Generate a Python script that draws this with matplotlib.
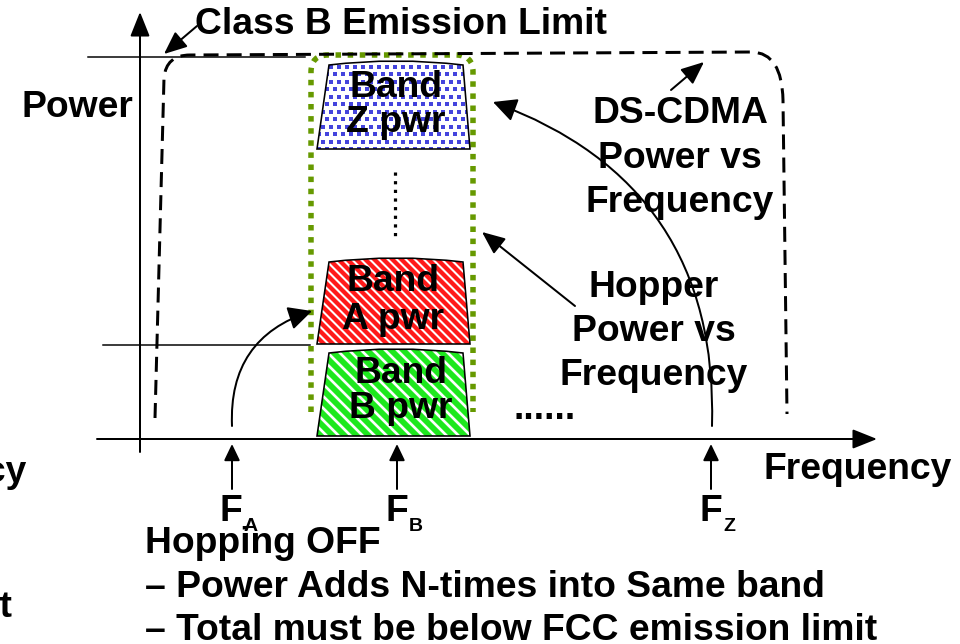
import numpy as np
import matplotlib
matplotlib.use("Agg")
import matplotlib.pyplot as plt
from matplotlib.path import Path
from matplotlib.patches import PathPatch, FancyArrowPatch
from matplotlib.collections import LineCollection

plt.rcParams['font.family'] = ['Liberation Sans', 'DejaVu Sans']

# ---------------- content ----------------
title_text = "Class B Emission Limit"
y_axis_label = "Power"
x_axis_label = "Frequency"
band_ids = ["Z", "A", "B"]
band_line1 = ["Band", "Band", "Band"]
band_line2 = ["Z pwr", "A pwr", "B pwr"]
band_fills = ["dots", "red", "green"]
freq_markers = ["A", "B", "Z"]
ds_label = ["DS-CDMA", "Power vs", "Frequency"]
hop_label = ["Hopper", "Power vs", "Frequency"]
notes = ["Hopping OFF",
         "\u2013 Power Adds N-times into Same band",
         "\u2013 Total must be below FCC emission limit"]
left_cut = ["Frequency", "Limit"]

# ---------------- geometry (pixel canvas) ----------------
W, H = 960, 644
fig = plt.figure(figsize=(W / 100, H / 100), dpi=100)
ax = fig.add_axes([0, 0, 1, 1])
ax.set_xlim(0, W)
ax.set_ylim(H, 0)
ax.axis('off')

FS = 26.8
BOLD = dict(fontweight='bold', color='black')
px = 0.72  # points per pixel

# axes
x_axis_y, x_axis_x0, x_axis_x1 = 439, 97, 877
y_axis_x, y_axis_y0, y_axis_y1 = 140, 452, 12
ax.add_patch(FancyArrowPatch((x_axis_x0, x_axis_y), (x_axis_x1, x_axis_y),
                             arrowstyle='-|>,head_length=0.75,head_width=0.3',
                             mutation_scale=20, lw=2 * px, color='black',
                             shrinkA=0, shrinkB=0))
ax.add_patch(FancyArrowPatch((y_axis_x, y_axis_y0), (y_axis_x, y_axis_y1),
                             arrowstyle='-|>,head_length=0.75,head_width=0.3',
                             mutation_scale=20, lw=2 * px, color='black',
                             shrinkA=0, shrinkB=0))

# level lines
ax.plot([88, 305], [57, 57], color='black', lw=1.5 * px)
ax.plot([103, 310], [345, 345], color='black', lw=1.5 * px)

# DS-CDMA dashed envelope
M, L, C3 = Path.MOVETO, Path.LINETO, Path.CURVE3
env_verts = [(155, 418), (164, 78), (166, 55), (190, 55), (752, 52),
             (782, 53), (783, 100), (787, 414)]
env_codes = [M, L, C3, C3, L, C3, C3, L]
ax.add_patch(PathPatch(Path(env_verts, env_codes), fc='none', ec='black',
                       lw=3 * px, linestyle=(0, (5, 2.7)), zorder=3))

# Hopper green dotted envelope
g_verts = [(311, 412), (311, 72), (311, 55), (328, 55), (456, 55),
           (473, 55), (473, 72), (473, 412)]
g_codes = [M, L, C3, C3, L, C3, C3, L]
ax.add_patch(PathPatch(Path(g_verts, g_codes), fc='none', ec='#669900',
                       lw=5.5 * px, linestyle=(0, (1, 1.2)), zorder=2))

# bands
band_top = [65, 262, 353]
band_bot = [149, 344, 436]
band_top_x = (329, 463)
band_bot_x = (317, 470)
bulge = 4


def band_path(top, bot):
    xt0, xt1 = band_top_x
    xb0, xb1 = band_bot_x
    verts = [(xb0, bot), (xt0, top), ((xt0 + xt1) / 2, top - 2 * bulge),
             (xt1, top), (xb1, bot), (xb0, bot)]
    codes = [M, L, C3, C3, L, Path.CLOSEPOLY]
    return Path(verts, codes)


for top, bot, fill in zip(band_top, band_bot, band_fills):
    p = band_path(top, bot)
    base = PathPatch(p, fc='white', ec='none', zorder=4)
    ax.add_patch(base)
    if fill == 'dots':
        xs, ys = [], []
        for j, yy in enumerate(np.arange(top - 6, bot + 6, 7.5)):
            off = 4 * (j % 2)
            for xx in np.arange(band_bot_x[0] - 6 + off, band_bot_x[1] + 6, 8):
                xs.append(xx)
                ys.append(yy)
        sc = ax.scatter(xs, ys, s=6, marker='s', color='#4444dd',
                        linewidths=0, zorder=5)
        sc.set_clip_path(base)
    else:
        period = 9 if fill == 'red' else 12
        lw = 4.3 if fill == 'red' else 5.8
        col = '#ff1a1a' if fill == 'red' else '#1ee81e'
        hgt = bot - top + 20
        segs = [[(x0, top - 10), (x0 + hgt, top - 10 + hgt)]
                for x0 in np.arange(band_bot_x[0] - hgt - 10, band_bot_x[1] + 10, period)]
        lc = LineCollection(segs, colors=col, linewidths=lw * px, zorder=5)
        ax.add_collection(lc)
        lc.set_clip_path(base)
    ax.add_patch(PathPatch(p, fc='none', ec='black', lw=1.6 * px, zorder=6))

# band labels
band_cx = [396, 393, 401]
band_b1 = [97, 291, 383]
band_b2 = [132, 329, 418]
for cx, b1, b2, t1, t2 in zip(band_cx, band_b1, band_b2, band_line1, band_line2):
    ax.text(cx, b1, t1, ha='center', va='baseline', fontsize=FS, zorder=7, **BOLD)
    ax.text(cx, b2, t2, ha='center', va='baseline', fontsize=FS, zorder=7, **BOLD)

# vertical ellipsis between bands
ax.plot([395, 395], [172, 238], color='black', lw=3.2 * px,
        linestyle=(0, (1, 1.7)), zorder=3)

# frequency markers
marker_x = [232, 397, 711]
for mx, lab in zip(marker_x, freq_markers):
    ax.add_patch(FancyArrowPatch((mx, 489), (mx, 444),
                                 arrowstyle='-|>,head_length=0.5,head_width=0.24',
                                 mutation_scale=20, lw=2 * px, color='black',
                                 shrinkA=0, shrinkB=0))
    ax.text(mx - 12, 521, "F", ha='left', va='baseline', fontsize=FS, **BOLD)
    ax.text(mx + 12, 531, lab, ha='left', va='baseline', fontsize=14, **BOLD)

# curved arrows
ax.add_patch(FancyArrowPatch((232, 426), (312, 311),
                             connectionstyle='arc3,rad=-0.38',
                             arrowstyle='-|>,head_length=0.72,head_width=0.36',
                             mutation_scale=20, lw=2 * px, color='black',
                             shrinkA=0, shrinkB=0, zorder=8))
ax.add_patch(FancyArrowPatch((712, 426), (493, 102),
                             connectionstyle='arc3,rad=0.36',
                             arrowstyle='-|>,head_length=0.72,head_width=0.36',
                             mutation_scale=20, lw=2 * px, color='black',
                             shrinkA=0, shrinkB=0, zorder=8))
# straight pointer arrows
ax.add_patch(FancyArrowPatch((575, 306), (482, 232),
                             arrowstyle='-|>,head_length=0.7,head_width=0.3',
                             mutation_scale=20, lw=2 * px, color='black',
                             shrinkA=0, shrinkB=0, zorder=8))
ax.add_patch(FancyArrowPatch((671, 90), (704, 62),
                             arrowstyle='-|>,head_length=0.7,head_width=0.3',
                             mutation_scale=20, lw=2 * px, color='black',
                             shrinkA=0, shrinkB=0, zorder=8))
ax.add_patch(FancyArrowPatch((197, 26), (164, 54),
                             arrowstyle='-|>,head_length=0.7,head_width=0.3',
                             mutation_scale=20, lw=2 * px, color='black',
                             shrinkA=0, shrinkB=0, zorder=8))

# texts
ax.text(195, 34, title_text, ha='left', va='baseline', fontsize=FS, **BOLD)
ax.text(22, 117, y_axis_label, ha='left', va='baseline', fontsize=FS, **BOLD)
ax.text(763, 479, x_axis_label, ha='left', va='baseline', fontsize=FS, **BOLD)
for t, b in zip(ds_label, [123, 168, 212]):
    ax.text(680, b, t, ha='center', va='baseline', fontsize=FS, zorder=7, **BOLD)
for t, b in zip(hop_label, [297, 341, 385]):
    ax.text(654, b, t, ha='center', va='baseline', fontsize=FS, zorder=7, **BOLD)
ax.text(545, 419, "......", ha='center', va='baseline', fontsize=FS, **BOLD)
for t, b in zip(notes, [553, 597, 640]):
    ax.text(145, b, t, ha='left', va='baseline', fontsize=FS, **BOLD)
ax.text(27, 482, left_cut[0], ha='right', va='baseline', fontsize=FS, **BOLD)
ax.text(12, 617, left_cut[1], ha='right', va='baseline', fontsize=FS, **BOLD)

fig.savefig("out.png", dpi=100)
